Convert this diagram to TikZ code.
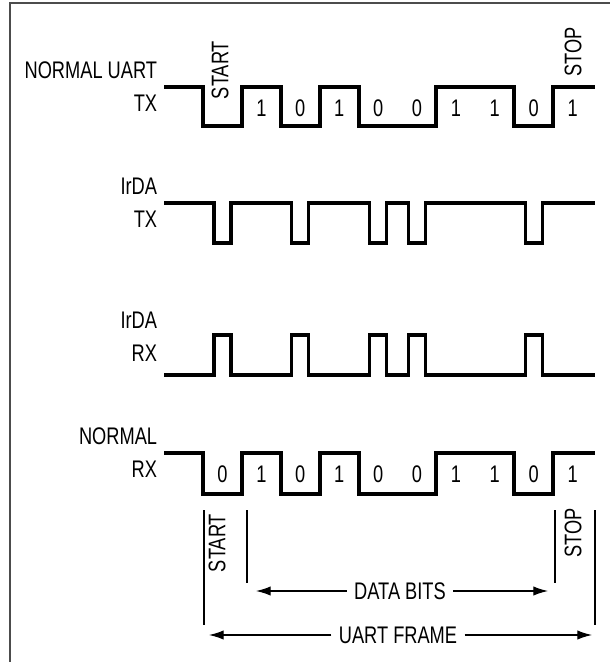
\documentclass[tikz,border=0pt]{standalone}
\usepackage{fontspec}
\setmainfont[FakeStretch=0.76]{Liberation Sans}
\usetikzlibrary{arrows.meta,positioning}

\tikzset{
  wave/.style={line width=2.4pt, line join=miter},
  lbl/.style={font=\fontsize{18}{24.75}\selectfont, align=right, inner sep=0pt},
  bit/.style={font=\fontsize{18}{20}\selectfont, inner sep=0pt},
  tag/.style={font=\fontsize{18}{20}\selectfont, rotate=90, inner sep=0pt},
  note/.style={font=\fontsize{18}{20}\selectfont, inner sep=5.5pt},
  brk/.style={line width=0.9pt},
  dim/.style={line width=0.9pt, -{Latex[length=11pt,width=7pt]}},
}

\begin{document}
\begin{tikzpicture}[x=0.75pt, y=-0.75pt]
    \useasboundingbox (0,0) rectangle (610,662);
    % frame
    \draw[line width=1.5pt, black!70] (10,662) -- (10,3) -- (610,3);

    % normal uart tx
    \coordinate (tx0) at (164,87);
    \draw[wave] (tx0) -- (203,87) -- (203,126) -- (242,126) -- (242,87) -- (281,87) -- (281,126)
        -- (320,126) -- (320,87) -- (359,87) -- (359,126) -- (436,126) -- (436,87) -- (514,87)
        -- (514,126) -- (553,126) -- (553,87) -- (595,87);
    \node[lbl, left=5pt of tx0] (txlbl) {NORMAL UART\\TX};
    \foreach \b [count=\i] in {1,0,1,0,0,1,1,0,1}
        \node[bit] (txb\i) at (222.5+38.9*\i,108) {\b};
    \node[tag] (txstart) at (220,70) {START};
    \node[tag] (txstop) at (573,52) {STOP};

    % irda tx
    \coordinate (itx0) at (164,203);
    \draw[wave] (itx0) foreach \c in {222.5,300.3,378.1,417,533.6}
        { -- (\c-8.5,203) -- (\c-8.5,243) -- (\c+8.5,243) -- (\c+8.5,203) } -- (595,203);
    \node[lbl, left=5pt of itx0] (itxlbl) {IrDA\\TX};

    % irda rx
    \coordinate (irx0) at (164,375);
    \draw[wave] (irx0) foreach \c in {222.5,300.3,378.1,417,533.6}
        { -- (\c-8.5,375) -- (\c-8.5,335) -- (\c+8.5,335) -- (\c+8.5,375) } -- (595,375);
    \coordinate (irxhi) at (164,337);
    \node[lbl, left=5pt of irxhi] (irxlbl) {IrDA\\RX};

    % normal rx
    \coordinate (rx0) at (164,453);
    \draw[wave] (rx0) -- (203,453) -- (203,494) -- (242,494) -- (242,453) -- (281,453) -- (281,494)
        -- (320,494) -- (320,453) -- (359,453) -- (359,494) -- (436,494) -- (436,453) -- (514,453)
        -- (514,494) -- (553,494) -- (553,453) -- (595,453);
    \node[lbl, left=5pt of rx0] (rxlbl) {NORMAL\\RX};
    \foreach \b [count=\i from 0] in {0,1,0,1,0,0,1,1,0,1}
        \node[bit] (rxb\i) at (222.5+38.9*\i,474) {\b};

    % frame markers
    \coordinate (fsT) at (204,510);
    \coordinate (fsB) at (204,625);
    \coordinate (dsT) at (247,510);
    \coordinate (dsB) at (247,583);
    \coordinate (deT) at (555,510);
    \coordinate (deB) at (555,583);
    \coordinate (feT) at (595,510);
    \coordinate (feB) at (595,625);
    \draw[brk] (fsT) -- (fsB);
    \draw[brk] (dsT) -- (dsB);
    \draw[brk] (deT) -- (deB);
    \draw[brk] (feT) -- (feB);
    \node[tag] (rxstart) at (217,543) {START};
    \node[tag] (rxstop) at (573,533) {STOP};

    % data bits / uart frame
    \node[note] (data) at (400,591) {DATA BITS};
    \coordinate (dataL) at (256,591);
    \coordinate (dataR) at (548,591);
    \draw[dim] (data) -- (dataL);
    \draw[dim] (data) -- (dataR);
    \node[note] (frame) at (398,635) {UART FRAME};
    \coordinate (frameL) at (209,635);
    \coordinate (frameR) at (592,635);
    \draw[dim] (frame) -- (frameL);
    \draw[dim] (frame) -- (frameR);
\end{tikzpicture}
\end{document}
